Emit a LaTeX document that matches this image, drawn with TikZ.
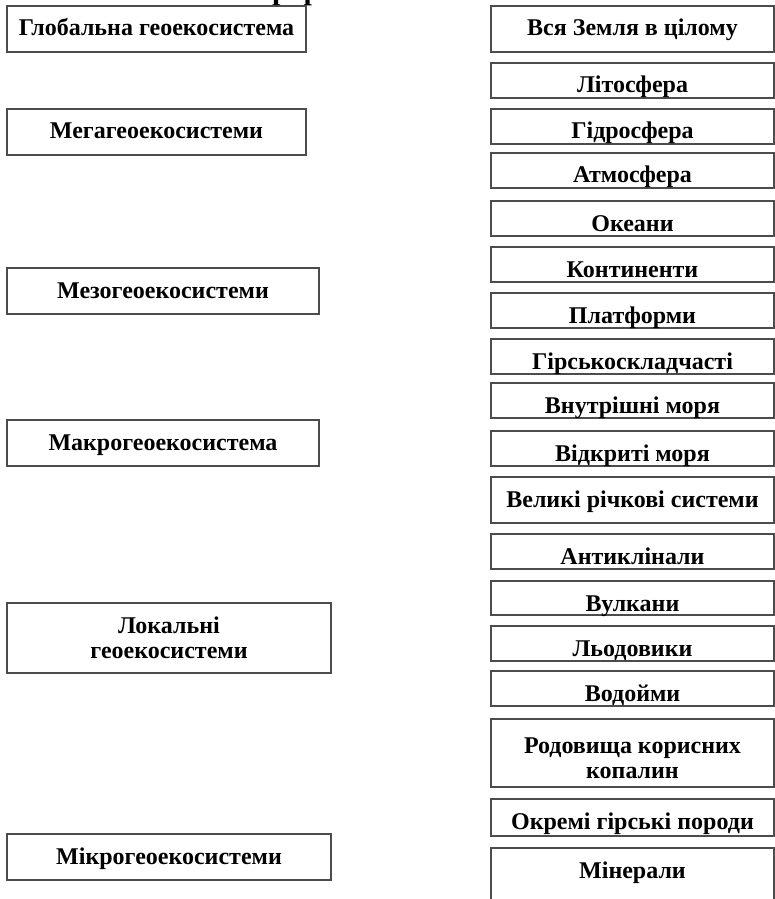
\documentclass[tikz,border=0pt]{standalone}
\usepackage{fontspec}
\setmainfont{Liberation Serif}
\usepackage{tikz}
\usetikzlibrary{positioning}

\begin{document}
\begin{tikzpicture}[
      x=0.5pt, y=-0.5pt,
      cell/.style={rectangle, draw=black!70, line width=0.8pt, fill=white,
                   minimum width=141.5pt, inner xsep=2pt, inner ysep=0pt, outer sep=0pt,
                   text height=15pt, text depth=2.5pt,
                   font=\bfseries\fontsize{12}{12.5}\selectfont},
      bigcell/.style={cell, text depth=8pt},
      tallcell/.style={rectangle, draw=black!70, line width=0.8pt, fill=white,
                   inner xsep=2pt, inner ysep=0pt, outer sep=0pt, align=center,
                   font=\bfseries\fontsize{12}{12.5}\selectfont},
      node distance=5.5pt
    ]
    \useasboundingbox (0,0) rectangle (775,899);
    \clip (0,0) rectangle (775,899);

    % Title (cut at the top)
    \node[anchor=base, font=\bfseries\fontsize{15}{17}\selectfont] (title) at (397,-0.5) {Ієрархія геоекосистем};

    % Levels
    \node[bigcell, minimum width=149.5pt, anchor=north west] (glob)  at (7,6)   {Глобальна геоекосистема};
    \node[bigcell, minimum width=149.5pt, anchor=north west] (mega)  at (7,109) {Мегагеоекосистеми};
    \node[bigcell, minimum width=156pt, anchor=north west]   (meso)  at (7,268) {Мезогеоекосистеми};
    \node[bigcell, minimum width=156pt, anchor=north west]   (macro) at (7,420) {Макрогеоекосистема};
    \node[tallcell, minimum width=162pt, minimum height=35pt, anchor=north west] (local) at (7,603) {Локальні\\геоекосистеми};
    \node[bigcell, minimum width=162pt, anchor=north west]   (micro) at (7,834) {Мікрогеоекосистеми};

    % Objects
    \node[bigcell, anchor=north west] (whole) at (491,6) {Вся Земля в цілому};
    \node[cell, below=of whole]          (litho)   {Літосфера};
    \node[cell, below=of litho]          (hydro)   {Гідросфера};
    \node[cell, below=4.5pt of hydro]    (atmo)    {Атмосфера};
    \node[cell, below=6.5pt of atmo]     (ocean)   {Океани};
    \node[cell, below=of ocean]          (contin)  {Континенти};
    \node[cell, below=of contin]         (platf)   {Платформи};
    \node[cell, below=of platf]          (mount)   {Гірськоскладчасті};
    \node[cell, below=4.5pt of mount]    (inland)  {Внутрішні моря};
    \node[cell, below=6.5pt of inland]   (opensea) {Відкриті моря};
    \node[bigcell, below=of opensea]     (river)   {Великі річкові системи};
    \node[cell, below=of river]          (anticl)  {Антиклінали};
    \node[cell, text depth=2pt, below=6pt of anticl] (volc) {Вулкани};
    \node[cell, below=of volc]           (glac)    {Льодовики};
    \node[cell, below=5pt of glac]       (waterb)  {Водойми};
    \node[tallcell, minimum width=141.5pt, minimum height=34pt, below=6.5pt of waterb] (deposit) {\rule{0pt}{13.5pt}Родовища корисних\\копалин};
    \node[cell, text depth=3.5pt, below=6pt of deposit] (rocks) {Окремі гірські породи};
    \node[cell, text depth=13.5pt, below=6pt of rocks]  (miner) {Мінерали};

  \end{tikzpicture}
\end{document}
